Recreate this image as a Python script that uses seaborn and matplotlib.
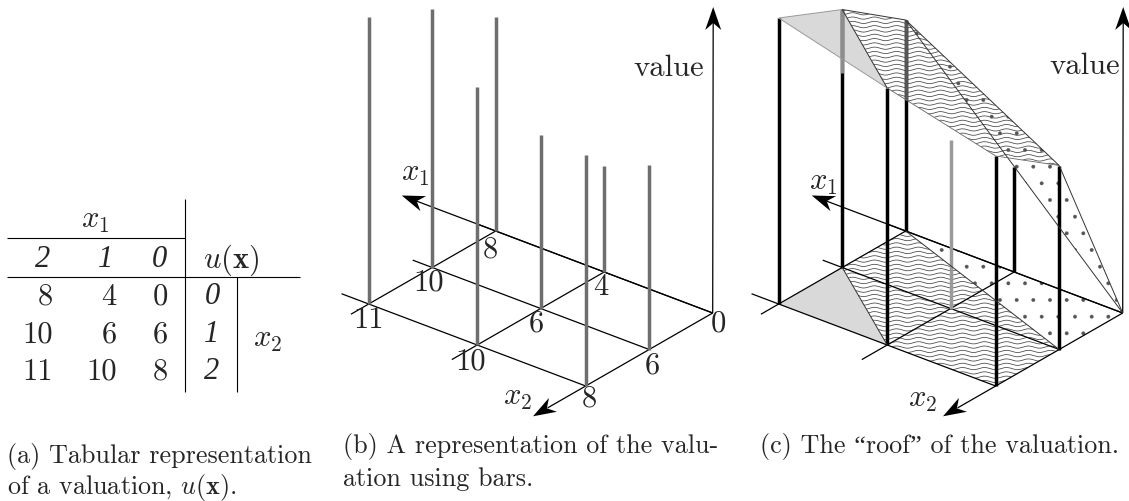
import numpy as np
import pandas as pd
import matplotlib.pyplot as plt
from matplotlib.patches import Polygon
import seaborn as sns

# Valuation table, rows are x2 = 0, 1, 2 and columns are x1 = 2, 1, 0
x1_labels = ['2', '1', '0']
x2_labels = ['0', '1', '2']
u_row0 = [8, 4, 0]
u_row1 = [10, 6, 6]
u_row2 = [11, 10, 8]

# Drawn bar heights, same layout as the table
heights_b_row0 = [214, 106, 0]
heights_b_row1 = [259, 174, 185]
heights_b_row2 = [287, 258, 231]
heights_c_row0 = [211, 105, 0]
heights_c_row1 = [258, 169, 184]
heights_c_row2 = [286, 257, 230]

caption_a = ['(a) Tabular representation', 'of a valuation, $u(\\mathbf{x})$.']
caption_b = ['(b) A representation of the valu-', 'ation using bars.']
caption_c = ['(c) The \u201croof\u201d of the valuation.']

sns.set_theme(style="white")
plt.rcParams['font.family'] = ['cmr10', 'Liberation Serif']
plt.rcParams['mathtext.fontset'] = 'cm'
plt.rcParams['axes.unicode_minus'] = False
plt.rcParams['hatch.linewidth'] = 0.3

fig = plt.figure(figsize=(11.29, 5.02), dpi=100)
ax = fig.add_axes([0, 0, 1, 1])
ax.set_xlim(0, 1129)
ax.set_ylim(502, 0)
ax.axis('off')

E1 = np.array([-108.5, -41.0])
E2 = np.array([-63.5, 36.5])
ORIGIN_B = np.array([712.7, 314.0])
ORIGIN_C = np.array([1122.7, 314.0])
BIG = 22


def base(origin, i, j):
    # i counts along x1, j counts along x2
    return origin + i * E1 + j * E2


def top(origin, heights, i, j):
    return base(origin, i, j) - np.array([0, heights[j][2 - i]])


def segments(segs, color, lw):
    rows = []
    for n, (p, q) in enumerate(segs):
        rows.append({'x': p[0], 'y': p[1], 'seg': n})
        rows.append({'x': q[0], 'y': q[1], 'seg': n})
    df = pd.DataFrame(rows)
    sns.lineplot(data=df, x='x', y='y', units='seg', estimator=None, sort=False,
                 color=color, linewidth=lw, legend=False, ax=ax,
                 solid_capstyle='butt', zorder=3)


def arrow_head(tip, direction, color='black'):
    d = np.array(direction, dtype=float)
    d = d / np.linalg.norm(d)
    n = np.array([-d[1], d[0]])
    pts = [tip, tip - 23 * d + 8 * n, tip - 16 * d, tip - 23 * d - 8 * n]
    ax.add_patch(Polygon(pts, closed=True, facecolor=color, edgecolor='none', zorder=6))


def draw_floor(origin):
    lines = [
        (base(origin, 0, 0), base(origin, 2.18, 0)),
        (base(origin, 0, 1), base(origin, 2.18, 1)),
        (base(origin, 0, 2), base(origin, 2.25, 2)),
        (base(origin, 0, 0), base(origin, 0, 2.6)),
        (base(origin, 1, 0), base(origin, 1, 2.4)),
        (base(origin, 2, 0), base(origin, 2, 2.28)),
    ]
    segments(lines, 'black', 0.9)
    tip1 = base(origin, 2.866, 0)
    segments([(base(origin, 0, 0), tip1 - 10 * E1 / np.linalg.norm(E1))], 'black', 0.9)
    arrow_head(tip1, E1)
    tip2 = base(origin, 0, 2.83)
    arrow_head(tip2, E2)
    # value axis
    tipv = origin + np.array([0.5, -306])
    segments([(origin, tipv + np.array([0, 10]))], 'black', 0.9)
    arrow_head(tipv, (0, -1))


def wave_fill(pts):
    clip = Polygon(pts, closed=True, facecolor='none', edgecolor='none', transform=ax.transData)
    ax.add_patch(clip)
    xs = np.arange(min(p[0] for p in pts) - 2, max(p[0] for p in pts) + 2, 1.0)
    y0 = min(p[1] for p in pts)
    y1 = max(p[1] for p in pts)
    for y in np.arange(y0, y1 + 4, 4.3):
        line, = ax.plot(xs, y + 1.1 * np.sin(xs * 2 * np.pi / 22), color='#444444', lw=0.55, zorder=2)
        line.set_clip_path(clip)


def dot_fill(pts):
    ax.add_patch(Polygon(pts, closed=True, facecolor='none', edgecolor='#555555',
                         hatch='.', lw=0, zorder=2))


rows = [u_row0, u_row1, u_row2]
heights_b = [heights_b_row0, heights_b_row1, heights_b_row2]
heights_c = [heights_c_row0, heights_c_row1, heights_c_row2]

# Panel (a), the table
FS = 22
segments([((7, 239.3), (185, 239.3)), ((7, 277.7), (300, 277.7)),
          ((185, 200), (185, 393)), ((237, 277.7), (237, 393))], 'black', 0.8)
ax.text(95, 221, '$x_1$', fontsize=BIG, ha='center', va='center')
col_right = [53, 116.7, 168]
col_mid = [43, 106, 159]
row_y = [297, 335, 372]
for c in range(3):
    ax.text(col_mid[c], 260, x1_labels[c], fontsize=FS, ha='center', va='center',
            family='Liberation Serif', style='italic')
    for r in range(3):
        ax.text(col_right[c], row_y[r], str(rows[r][c]), fontsize=FS, ha='right', va='center')
for r in range(3):
    ax.text(212, row_y[r], x2_labels[r], fontsize=FS, ha='center', va='center',
            family='Liberation Serif', style='italic')
ax.text(231, 260, '$u(\\mathbf{x})$', fontsize=BIG, ha='center', va='center')
ax.text(268, 340, '$x_2$', fontsize=BIG, ha='center', va='center')

# Panel (b), bars
draw_floor(ORIGIN_B)
bars = []
for j in range(3):
    for i in range(3):
        if rows[j][2 - i] > 0:
            bars.append((base(ORIGIN_B, i, j), top(ORIGIN_B, heights_b, i, j)))
segments(bars, '#6e6e6e', 2.5)

label_shift = {(2, 0): (-5, 18), (2, 1): (-4, 14), (2, 2): (0, 15), (1, 0): (-3, 14), (1, 1): (-4, 14),
               (1, 2): (-7, 16), (0, 0): (6, 10), (0, 1): (3, 15), (0, 2): (4, 12)}
for (i, j), (dx, dy) in label_shift.items():
    p = base(ORIGIN_B, i, j)
    ax.text(p[0] + dx, p[1] + dy, str(rows[j][2 - i]), fontsize=FS, ha='center', va='center', zorder=7)
ax.text(415, 174, '$x_1$', fontsize=BIG, ha='center', va='center')
ax.text(518, 398, '$x_2$', fontsize=BIG, ha='center', va='center')
ax.text(669, 68, 'value', fontsize=FS, ha='center', va='center')

# Panel (c), the roof
o = ORIGIN_C
F = {(i, j): base(o, i, j) for i in range(3) for j in range(3)}
T = {(i, j): top(o, heights_c, i, j) for i in range(3) for j in range(3)}

ax.add_patch(Polygon([F[2, 2], F[2, 1], F[1, 2]], closed=True, facecolor='#d9d9d9', edgecolor='none', zorder=1))
ax.add_patch(Polygon([T[2, 2], T[2, 1], T[1, 2]], closed=True, facecolor='#d9d9d9', edgecolor='none', zorder=1))
wave_fill([F[2, 1], F[2, 0], F[0, 1], F[0, 2], F[1, 2]])
wave_fill([T[2, 1], T[2, 0], T[0, 1], T[0, 2], T[1, 2]])
dot_fill([F[2, 0], F[0, 0], F[0, 1]])
dot_fill([T[2, 0], F[0, 0], T[0, 1]])
draw_floor(o)

black_bars = []
for j in range(3):
    for i in range(3):
        if (i, j) not in [(0, 0), (1, 1)]:
            black_bars.append((F[i, j], T[i, j]))
segments(black_bars, 'black', 2.5)
segments([(F[1, 1], T[1, 1])], '#9a9a9a', 2.5)
segments([(T[2, 1], T[2, 1] + np.array([0, 63]))], '#8c8c8c', 2.5)
segments([(T[2, 0], T[2, 0] + np.array([0, 80]))], '#555555', 2.5)

segments([(T[2, 2], T[2, 1]), (T[2, 2], T[1, 2])], '#999999', 0.7)
segments([(T[2, 1], T[2, 0]), (T[2, 1], T[1, 2]), (T[2, 0], T[0, 1]),
          (T[2, 0], F[0, 0]), (T[0, 1], F[0, 0]), (F[2, 1], F[1, 2]), (F[2, 0], F[0, 1])], '#333333', 0.7)
segments([(T[1, 2], T[0, 2]), (T[0, 2], T[0, 1])], '#666666', 0.6)

ax.text(823, 183, '$x_1$', fontsize=BIG, ha='center', va='center')
ax.text(923, 400, '$x_2$', fontsize=BIG, ha='center', va='center')
ax.text(1084.7, 66, 'value', fontsize=FS, ha='center', va='center')

# Captions
CAP = 18.8
for line, y in zip(caption_a, [463, 494]):
    ax.text(7, y, line, fontsize=CAP, ha='left', va='baseline')
for line, y in zip(caption_b, [453, 486]):
    ax.text(342.7, y, line, fontsize=CAP, ha='left', va='baseline')
for line, y in zip(caption_c, [453]):
    ax.text(760, y, line, fontsize=CAP, ha='left', va='baseline')

fig.savefig('out.png', dpi=100)
plt.close()
